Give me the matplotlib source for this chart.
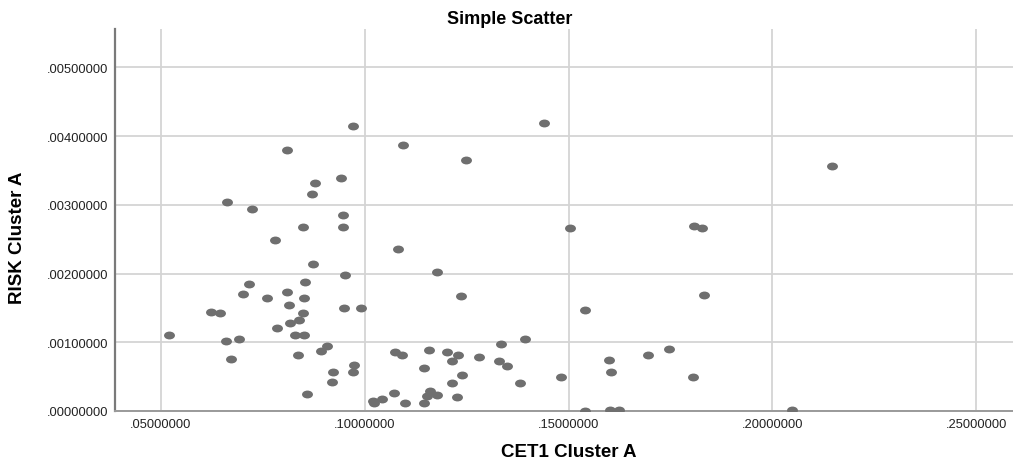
import numpy as np
import matplotlib.pyplot as plt
from matplotlib.path import Path
from matplotlib.ticker import FuncFormatter

plt.rcParams['font.family'] = ['Liberation Sans', 'DejaVu Sans']

# CET1 Cluster A (x) and RISK Cluster A (y)
cet1 = [0.0520, 0.0622, 0.0644, 0.0660, 0.0692, 0.0671, 0.0662, 0.0724, 0.0810, 0.0970,
        0.1093, 0.1247, 0.1439, 0.0941, 0.0878, 0.0870, 0.0946, 0.0946, 0.0848, 0.0780,
        0.1081, 0.0873, 0.0952, 0.0715, 0.0852, 0.0702, 0.0760, 0.0808, 0.0850, 0.0814,
        0.0950, 0.0990, 0.0848, 0.0839, 0.0816, 0.0785, 0.0828, 0.0850, 0.0835, 0.0893,
        0.0906, 0.0922, 0.0919, 0.0974, 0.0972, 0.0857, 0.1020, 0.1022, 0.1043, 0.1071,
        0.1099, 0.1074, 0.1092, 0.1503, 0.1807, 0.1827, 0.1176, 0.1235, 0.1539, 0.1393,
        0.1335, 0.1158, 0.1201, 0.1229, 0.1214, 0.1281, 0.1330, 0.1349, 0.1145, 0.1238,
        0.1213, 0.1381, 0.1482, 0.1160, 0.1152, 0.1176, 0.1225, 0.1144, 0.1539, 0.1602,
        0.1623, 0.1598, 0.1605, 0.1694, 0.1746, 0.1805, 0.1833, 0.2146, 0.2048]
risk = [0.001106, 0.001437, 0.001421, 0.001019, 0.001048, 0.000763, 0.003042, 0.002936, 0.003791, 0.004144,
        0.003868, 0.003659, 0.004192, 0.003384, 0.003324, 0.003150, 0.002853, 0.002674, 0.002678, 0.002489,
        0.002358, 0.002135, 0.001980, 0.001854, 0.001878, 0.001699, 0.001645, 0.001738, 0.001640, 0.001539,
        0.001500, 0.001495, 0.001427, 0.001330, 0.001277, 0.001204, 0.001112, 0.001112, 0.000815, 0.000873,
        0.000942, 0.000568, 0.000428, 0.000665, 0.000568, 0.000253, 0.000150, 0.000110, 0.000170, 0.000258,
        0.000122, 0.000859, 0.000815, 0.002664, 0.002689, 0.002659, 0.002023, 0.001674, 0.001466, 0.001044,
        0.000975, 0.000884, 0.000859, 0.000821, 0.000723, 0.000786, 0.000723, 0.000655, 0.000626, 0.000520,
        0.000403, 0.000403, 0.000495, 0.000291, 0.000218, 0.000233, 0.000204, 0.000112, 0.000000, 0.000010,
        0.000010, 0.000742, 0.000568, 0.000811, 0.000898, 0.000495, 0.001680, 0.003566, 0.000015]

x_ticks = [0.05, 0.10, 0.15, 0.20, 0.25]
y_ticks = [0.000, 0.001, 0.002, 0.003, 0.004, 0.005]

# slightly flattened dot like the SPSS markers
circ = Path.unit_circle()
oval = Path(circ.vertices * [1.0, 0.72], circ.codes)

fig = plt.figure(figsize=(10.13, 4.6), dpi=100)
ax = fig.add_axes([0.1135, 0.1045, 0.8865, 0.8305])

ax.scatter(cet1, risk, marker=oval, s=62, color='#6f6f6f', linewidths=0, zorder=3)

ax.set_xlim(0.0387, 0.259)
ax.set_ylim(0, 0.00556)
ax.set_xticks(x_ticks)
ax.set_yticks(y_ticks)
fmt = FuncFormatter(lambda v, p: '{:.8f}'.format(v).lstrip('0'))
ax.xaxis.set_major_formatter(fmt)
ax.yaxis.set_major_formatter(fmt)
ax.tick_params(labelsize=9.3, colors='#222222', length=0, pad=5)

ax.grid(True, color='#d4d4d4', linewidth=1.3, zorder=0)
ax.set_axisbelow(True)
for s in ['top', 'right']:
    ax.spines[s].set_visible(False)
ax.spines['left'].set_color('#7a7a7a')
ax.spines['left'].set_linewidth(1.6)
ax.spines['bottom'].set_color('#9a9a9a')
ax.spines['bottom'].set_linewidth(1.4)

fig.text(510 / 1013, 1 - 19 / 460, 'Simple Scatter', fontsize=13, fontweight='bold',
         ha='center', va='center')
ax.set_xlabel('CET1 Cluster A', fontsize=13.5, fontweight='bold')
ax.xaxis.set_label_coords(0.505, -0.083)
ax.set_ylabel('RISK Cluster A', fontsize=13.5, fontweight='bold')
ax.yaxis.set_label_coords(-0.099, 0.455)

fig.savefig('out.png', dpi=100)
